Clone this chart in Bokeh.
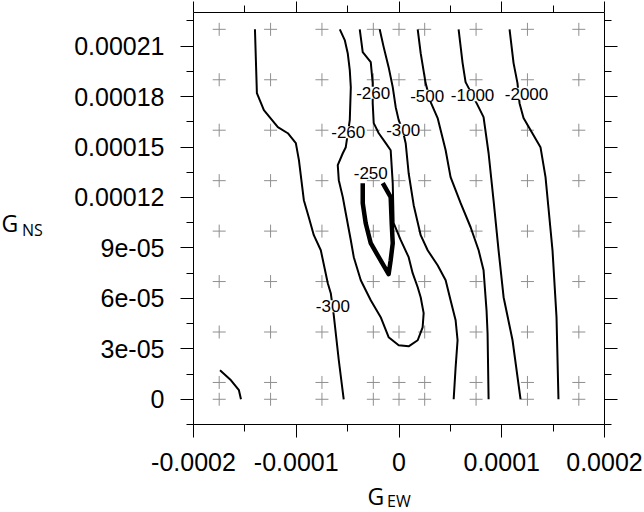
import numpy as np
from bokeh.plotting import figure
from bokeh.models import (LinearAxis, FixedTicker, CustomJSTickFormatter, Range1d,
                          ColumnDataSource, Label)
from bokeh.embed import file_html
from bokeh.resources import INLINE
from bokeh.core.properties import value

U = 1e-5  # all coordinate lists below are in units of 1e-5

# ---- sampling grid (plus marks) ----
grid_x = [-17.5, -12.5, -7.5, -2.5, 0.0, 2.5, 7.5, 12.5, 17.5]
grid_y = [0, 1, 4, 7, 10, 13, 16, 19, 22]

# ---- contour lines ----
c300_left_x = [-14.02, -13.83, -13.15, -11.79, -10.82, -10.04, -9.74, -9.26, -8.78, -8.29,
               -7.61, -6.93, -6.64, -6.35, -5.86, -5.38]
c300_left_y = [22.0, 18.2, 17.19, 16.18, 15.82, 15.23, 14.22, 11.84, 10.83, 9.76,
               8.86, 6.90, 6.31, 5.00, 2.32, 0.0]

corner_x = [-17.42, -16.35, -15.58, -15.38]
corner_y = [1.73, 1.13, 0.54, 0.0]

c260_x = [-5.76, -5.28, -4.99, -4.79, -4.69, -4.79, -5.18, -5.47, -5.96, -5.86,
          -5.47, -5.18, -4.69, -4.40, -3.72, -2.75, -1.78, -1.01, -0.03, 0.94,
          1.82, 2.30, 2.40, 2.11, 1.82, 1.33, 0.94, 0.17, -0.52, -0.61,
          -0.81, -1.29, -1.97, -2.46, -2.56, -2.56, -2.75, -3.53, -3.82]
c260_y = [22.0, 21.36, 20.58, 19.57, 18.56, 16.60, 14.99, 14.63, 13.92, 13.03,
          12.02, 11.06, 9.46, 8.45, 7.08, 5.89, 4.88, 3.69, 3.21, 3.15,
          3.51, 4.28, 5.12, 6.07, 6.66, 7.50, 8.45, 9.46, 10.47, 12.85,
          14.81, 15.23, 15.82, 16.42, 17.61, 18.80, 20.05, 20.64, 22.0]

c250_x = [-3.53, -3.53, -3.24, -2.75, -1.97, -1.01, -0.81, -0.61, -0.71, -0.81, -1.58]
c250_y = [12.85, 11.66, 10.47, 9.28, 8.45, 7.44, 8.27, 9.28, 10.47, 12.02, 12.85]

c300_right_x = [-1.88, -1.49, -1.01, -0.61, -0.32, -0.03, 0.36, 0.65, 0.94, 1.43,
                2.11, 2.79, 3.76, 4.54, 5.02, 5.51, 5.70, 5.51, 5.32]
c300_right_y = [22.0, 20.94, 19.75, 18.56, 17.37, 16.60, 16.0, 15.23, 13.44, 11.54,
                9.76, 8.86, 7.97, 7.08, 5.89, 4.70, 3.51, 1.90, 0.0]

c500_x = [1.82, 2.11, 2.59, 3.08, 3.76, 4.54, 5.02, 6.00, 6.97, 7.75, 8.23, 8.52, 8.62, 8.72]
c500_y = [22.0, 20.58, 18.80, 17.67, 16.72, 14.81, 13.21, 11.66, 10.23, 8.86, 7.67, 5.29, 3.93, 0.0]

c1000_x = [5.80, 6.19, 6.48, 7.65, 8.23, 8.72, 9.20, 9.69, 10.18, 11.05, 11.83]
c1000_y = [22.0, 19.99, 18.86, 17.49, 16.78, 14.63, 11.84, 8.86, 6.07, 3.51, 0.0]

c2000_x = [10.76, 11.15, 11.53, 11.73, 12.12, 13.77, 14.26, 14.55, 14.94, 15.33, 15.52]
c2000_y = [22.0, 19.99, 18.80, 17.61, 16.72, 14.99, 13.21, 11.36, 8.86, 4.88, 0.0]

# ---- contour labels ----
label_text = ["-300", "-260", "-250", "-260", "-300", "-500", "-1000", "-2000"]
label_x = [-6.44, -4.94, -2.75, -2.51, 0.41, 2.74, 7.16, 12.41]
label_y = [5.53, 15.88, 13.44, 18.23, 16.03, 18.05, 18.08, 18.17]

# ---- axes ----
x_ticks = [-0.0002, -0.0001, 0.0, 0.0001, 0.0002]
x_tick_labels = ["-0.0002", "-0.0001", "0", "0.0001", "0.0002"]
y_ticks = [0.0, 3e-05, 6e-05, 9e-05, 0.00012, 0.00015, 0.00018, 0.00021]
y_tick_labels = ["0", "3e-05", "6e-05", "9e-05", "0.00012", "0.00015", "0.00018", "0.00021"]
x_lim = (-0.0002, 0.0002)
y_lim = (-1.5e-05, 0.00023)

x_minor = list(np.arange(-3, 4, 2) * 5e-5)
y_minor = list(np.arange(-1, 16, 2) * 1.5e-5)

W, H = 644, 512
FL, FR, FT, FB = 193, 604, 12, 424

p = figure(width=W, height=H, output_backend="svg", toolbar_location=None,
           x_range=Range1d(*x_lim), y_range=Range1d(*y_lim),
           x_axis_location=None, y_axis_location=None,
           min_border_left=FL, min_border_right=W - FR,
           min_border_top=FT, min_border_bottom=H - FB)
p.grid.visible = False
p.outline_line_color = None
p.background_fill_color = "white"
p.border_fill_color = "white"

fmt_code = """
const i = vals.findIndex((v) => Math.abs(v - tick) < 1e-12);
return i >= 0 ? labs[i] : "";
"""


def make_axis(ticks, minor, labels, show_labels, tick_out=13):
    if show_labels:
        fmt = CustomJSTickFormatter(args=dict(vals=ticks, labs=labels), code=fmt_code)
    else:
        fmt = CustomJSTickFormatter(code='return "";')
    ax = LinearAxis(ticker=FixedTicker(ticks=ticks, minor_ticks=minor), formatter=fmt)
    ax.major_tick_out = tick_out
    ax.major_tick_in = 0
    ax.minor_tick_out = 7
    ax.minor_tick_in = 0
    ax.axis_line_color = "black"
    ax.axis_line_width = 1
    ax.major_tick_line_color = "black"
    ax.minor_tick_line_color = "black"
    ax.major_label_text_font = "Liberation Sans"
    ax.major_label_text_color = "black"
    if show_labels:
        ax.major_label_text_font_size = "25px"
    else:
        ax.major_label_text_font_size = "1px"
        ax.major_label_standoff = 0
    return ax


ax_b = make_axis(x_ticks, x_minor, x_tick_labels, True)
ax_b.major_label_standoff = 15
ax_l = make_axis(y_ticks, y_minor, y_tick_labels, True)
ax_l.major_label_standoff = 16
ax_t = make_axis(x_ticks, x_minor, x_tick_labels, False, tick_out=11)
ax_r = make_axis(y_ticks, y_minor, y_tick_labels, False)
p.add_layout(ax_b, "below")
p.add_layout(ax_l, "left")
p.add_layout(ax_t, "above")
p.add_layout(ax_r, "right")

# grid of plus marks
gx, gy = np.meshgrid(np.array(grid_x) * U, np.array(grid_y) * U)
p.scatter(gx.ravel(), gy.ravel(), marker="cross", size=13, line_color="#8f8f8f", line_width=1)

thin = [(c300_left_x, c300_left_y), (corner_x, corner_y), (c260_x, c260_y),
        (c300_right_x, c300_right_y), (c500_x, c500_y), (c1000_x, c1000_y),
        (c2000_x, c2000_y)]
for xs, ys in thin:
    p.line(np.array(xs) * U, np.array(ys) * U, line_color="black", line_width=2,
           line_join="round")
p.line(np.array(c250_x) * U, np.array(c250_y) * U, line_color="black", line_width=4.5,
       line_join="round")

src = ColumnDataSource(dict(x=np.array(label_x) * U, y=np.array(label_y) * U, text=label_text))
p.text(x="x", y="y", text="text", source=src, text_font=value("Liberation Sans"),
       text_font_size=value("17px"), text_align="center", text_baseline="middle",
       text_color="black", background_fill_color="white")


# axis titles (G with subscript); kept in side panels (which have spare room)
# so that they are not clipped to the frame
def sx(px):
    return x_lim[0] + (px - FL) / (FR - FL) * (x_lim[1] - x_lim[0])


def sy(py):
    return y_lim[0] + (FB - py) / (FB - FT) * (y_lim[1] - y_lim[0])


title_font = "Open Sans"
for txt, px, py, size, side in [("G", 1, 222.5, "23px", "left"), ("NS", 21.5, 229.5, "16px", "right"),
                                ("G", 367, 495.5, "23px", "left"), ("EW", 386.5, 500.5, "16px", "left")]:
    p.add_layout(Label(x=sx(px), y=sy(py), text=txt, text_font=title_font,
                       text_font_size=size, text_align="left", text_baseline="middle",
                       text_color="black"), side)

open("out.html", "w").write(file_html(p, INLINE))
